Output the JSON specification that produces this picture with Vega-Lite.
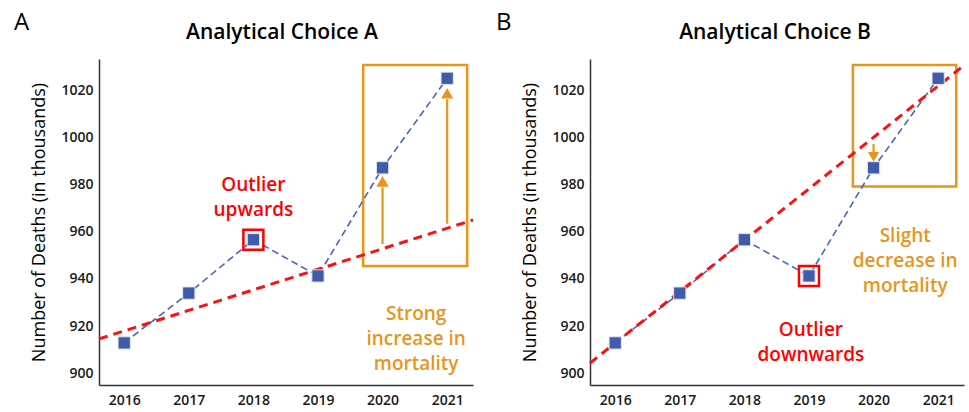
{
  "$schema": "https://vega.github.io/schema/vega-lite/v6.json",
  "padding": {"left": 13, "top": 11, "right": 5, "bottom": 0},
  "config": {
    "font": "Open Sans",
    "view": {"stroke": null},
    "axis": {"grid": false, "ticks": false, "tickSize": 0, "domainColor": "#333333", "domainWidth": 1.5,
      "labelFont": "Open Sans", "labelFontSize": 14, "labelFontWeight": 600, "labelColor": "#1a1a1a",
      "titleFont": "Open Sans", "titleFontSize": 18, "titleFontWeight": 400, "titleColor": "#000000"},
    "title": {"font": "Open Sans", "color": "#000000"},
    "concat": {"spacing": 16}
  },
  "datasets": {
    "deaths": [
      {"year": 2016, "value": 912.8},
      {"year": 2017, "value": 934.0},
      {"year": 2018, "value": 956.7},
      {"year": 2019, "value": 941.3},
      {"year": 2020, "value": 987.3},
      {"year": 2021, "value": 1025.4}
    ],
    "trendA": [{"year": 2015.61, "value": 914.5}, {"year": 2021.4, "value": 965.1}],
    "trendB": [{"year": 2015.61, "value": 904.2}, {"year": 2021.4, "value": 1030.9}],
    "boxA": [{"year": 2019.7, "year2": 2021.31, "value": 945.5, "value2": 1031.1}],
    "boxB": [{"year": 2019.68, "year2": 2021.28, "value": 979.4, "value2": 1031.1}],
    "arrowsA": [{"year": 2020, "value": 954.9, "value2": 979.0}, {"year": 2021, "value": 963.5, "value2": 1016.5}],
    "headsA": [{"year": 2020, "value": 983.8}, {"year": 2021, "value": 1021.3}],
    "arrowsB": [{"year": 2020, "value": 997.4, "value2": 993.0}],
    "headsB": [{"year": 2020, "value": 989.9}],
    "outlierA": [{"year": 2018, "value": 956.7}],
    "outlierB": [{"year": 2019, "value": 941.3}],
    "redTextA": [{"year": 2018.0, "value": 979.8, "label": "Outlier\nupwards"}],
    "orangeTextA": [{"year": 2020.52, "value": 925.1, "label": "Strong\nincrease in\nmortality"}],
    "redTextB": [{"year": 2019.03, "value": 918.4, "label": "Outlier\ndownwards"}],
    "orangeTextB": [{"year": 2020.49, "value": 958.4, "label": "Slight\ndecrease in\nmortality"}]
  },
  "hconcat": [
    {
      "title": {"text": "A", "anchor": "start", "fontSize": 24, "fontWeight": 400, "dx": -17, "offset": -13},
      "vconcat": [
        {
          "width": 374,
          "height": 326,
          "title": {"text": "Analytical Choice A", "fontSize": 21, "fontWeight": 600, "anchor": "middle", "frame": "group", "dx": -4, "offset": 16},
          "encoding": {
            "x": {"field": "year", "type": "quantitative", "scale": {"domain": [2015.61, 2021.4], "nice": false, "zero": false},
              "axis": {"values": [2016, 2017, 2018, 2019, 2020, 2021], "format": "d", "title": null, "labelPadding": 8}},
            "y": {"field": "value", "type": "quantitative", "scale": {"domain": [894.9, 1033.6], "nice": false, "zero": false},
              "axis": {"values": [900, 920, 940, 960, 980, 1000, 1020], "format": "d", "title": "Number of Deaths (in thousands)", "labelPadding": 6, "titlePadding": 12}}
          },
          "layer": [
            {"data": {"name": "boxA"}, "mark": {"type": "rect", "fill": null, "stroke": "#E8951C", "strokeWidth": 2.5},
              "encoding": {"x2": {"field": "year2"}, "y2": {"field": "value2"}}},
            {"data": {"name": "deaths"}, "mark": {"type": "line", "color": "#4A65B5", "strokeWidth": 1.6, "strokeDash": [7, 4]}, "encoding": {}},
            {"data": {"name": "trendA"}, "mark": {"type": "line", "color": "#FF1010", "strokeWidth": 3, "strokeDash": [9, 6]}, "encoding": {}},
            {"data": {"name": "deaths"}, "mark": {"type": "point", "shape": "square", "filled": true, "size": 150, "color": "#3F5BA9", "opacity": 1, "stroke": "#dfe4f2", "strokeWidth": 1}},
            {"data": {"name": "outlierA"}, "mark": {"type": "point", "shape": "square", "filled": false, "size": 400, "color": "#FF0000", "strokeWidth": 2.5, "opacity": 1}},
            {"data": {"name": "arrowsA"}, "mark": {"type": "rule", "color": "#E8951C", "strokeWidth": 2.2}, "encoding": {"y2": {"field": "value2"}}},
            {"data": {"name": "headsA"}, "mark": {"type": "point", "shape": "triangle-up", "filled": true, "size": 150, "color": "#E8951C", "opacity": 1, "yOffset": 5.3}},
            {"data": {"name": "redTextA"}, "mark": {"type": "text", "color": "#FF0000", "fontSize": 19, "fontWeight": 600, "lineBreak": "\n", "lineHeight": 25, "align": "center", "baseline": "middle"},
              "encoding": {"text": {"field": "label"}}},
            {"data": {"name": "orangeTextA"}, "mark": {"type": "text", "color": "#E8951C", "fontSize": 19, "fontWeight": 600, "lineBreak": "\n", "lineHeight": 25, "align": "center", "baseline": "middle"},
              "encoding": {"text": {"field": "label"}}}
          ]
        }
      ]
    },
    {
      "title": {"text": "B", "anchor": "start", "fontSize": 24, "fontWeight": 400, "dx": -26, "offset": -13},
      "vconcat": [
        {
          "width": 374,
          "height": 326,
          "title": {"text": "Analytical Choice B", "fontSize": 21, "fontWeight": 600, "anchor": "middle", "frame": "group", "dx": -2, "offset": 16},
          "encoding": {
            "x": {"field": "year", "type": "quantitative", "scale": {"domain": [2015.61, 2021.4], "nice": false, "zero": false},
              "axis": {"values": [2016, 2017, 2018, 2019, 2020, 2021], "format": "d", "title": null, "labelPadding": 8}},
            "y": {"field": "value", "type": "quantitative", "scale": {"domain": [894.9, 1033.6], "nice": false, "zero": false},
              "axis": {"values": [900, 920, 940, 960, 980, 1000, 1020], "format": "d", "title": "Number of Deaths (in thousands)", "labelPadding": 6, "titlePadding": 12}}
          },
          "layer": [
            {"data": {"name": "boxB"}, "mark": {"type": "rect", "fill": null, "stroke": "#E8951C", "strokeWidth": 2.5},
              "encoding": {"x2": {"field": "year2"}, "y2": {"field": "value2"}}},
            {"data": {"name": "deaths"}, "mark": {"type": "line", "color": "#4A65B5", "strokeWidth": 1.6, "strokeDash": [7, 4]}, "encoding": {}},
            {"data": {"name": "trendB"}, "mark": {"type": "line", "color": "#FF1010", "strokeWidth": 3, "strokeDash": [9, 6]}, "encoding": {}},
            {"data": {"name": "deaths"}, "mark": {"type": "point", "shape": "square", "filled": true, "size": 150, "color": "#3F5BA9", "opacity": 1, "stroke": "#dfe4f2", "strokeWidth": 1}},
            {"data": {"name": "outlierB"}, "mark": {"type": "point", "shape": "square", "filled": false, "size": 400, "color": "#FF0000", "strokeWidth": 2.5, "opacity": 1}},
            {"data": {"name": "arrowsB"}, "mark": {"type": "rule", "color": "#E8951C", "strokeWidth": 2.2}, "encoding": {"y2": {"field": "value2"}}},
            {"data": {"name": "headsB"}, "mark": {"type": "point", "shape": "triangle-down", "filled": true, "size": 130, "color": "#E8951C", "opacity": 1, "yOffset": -4.9}},
            {"data": {"name": "redTextB"}, "mark": {"type": "text", "color": "#FF0000", "fontSize": 19, "fontWeight": 600, "lineBreak": "\n", "lineHeight": 25, "align": "center", "baseline": "middle"},
              "encoding": {"text": {"field": "label"}}},
            {"data": {"name": "orangeTextB"}, "mark": {"type": "text", "color": "#E8951C", "fontSize": 19, "fontWeight": 600, "lineBreak": "\n", "lineHeight": 25, "align": "center", "baseline": "middle"},
              "encoding": {"text": {"field": "label"}}}
          ]
        }
      ]
    }
  ]
}
